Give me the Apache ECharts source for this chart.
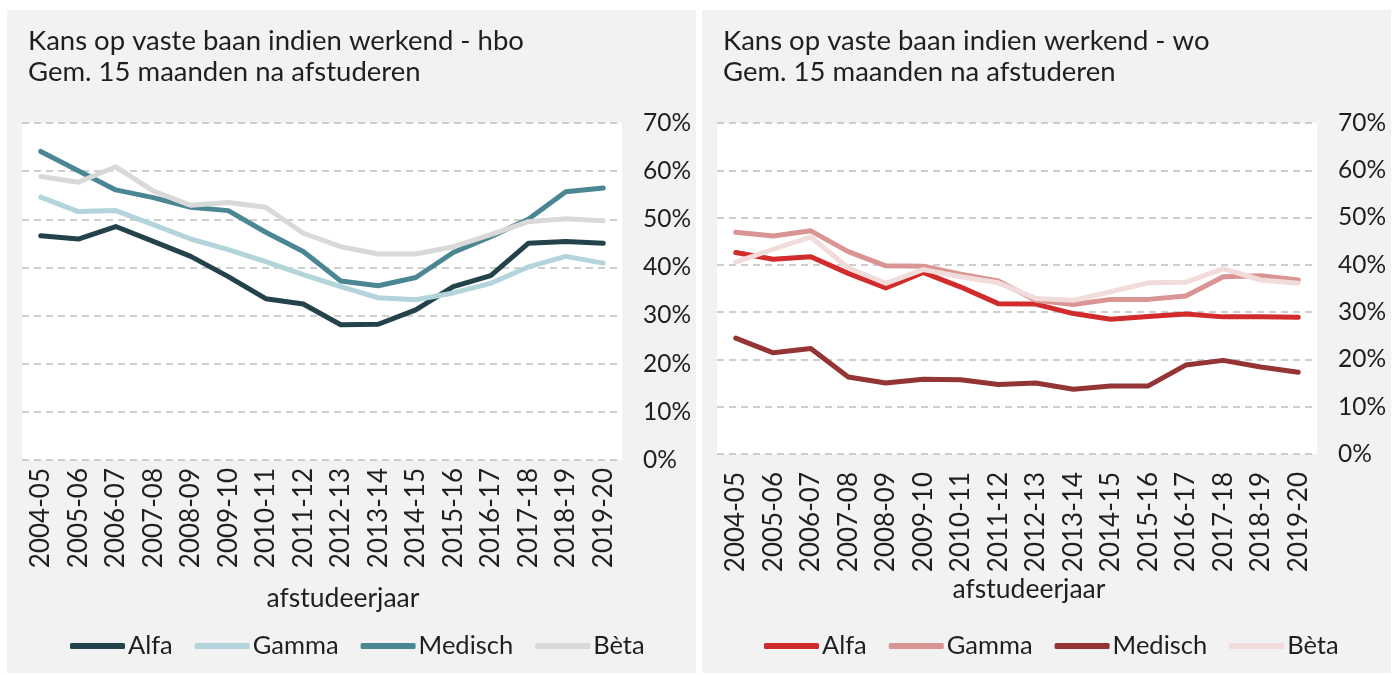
<!DOCTYPE html>
<html>
<head>
<meta charset="utf-8">
<script src="https://cdn.jsdelivr.net/npm/echarts@6/dist/echarts.min.js"></script>
<style>
  html, body { margin: 0; padding: 0; background: #fff; }
  #main { width: 1400px; height: 675px; }
</style>
</head>
<body>
<div id="main"></div>
<script>
// afstudeerjaren
const years = ['2004-05', '2005-06', '2006-07', '2007-08', '2008-09', '2009-10', '2010-11', '2011-12',
  '2012-13', '2013-14', '2014-15', '2015-16', '2016-17', '2017-18', '2018-19', '2019-20']
const seriesNames = ['Alfa', 'Gamma', 'Medisch', 'Bèta']

// hbo (percentages)
const hboAlfa = [46.6, 45.9, 48.5, 45.4, 42.3, 38.1, 33.5, 32.4, 28.1, 28.2, 31.2, 36.0, 38.3, 45.0, 45.4, 45.0]
const hboGamma = [54.6, 51.6, 51.8, 48.9, 45.9, 43.7, 41.2, 38.5, 36.0, 33.7, 33.3, 34.7, 36.7, 40.1, 42.3, 40.9]
const hboMedisch = [64.1, 60.1, 56.1, 54.5, 52.5, 51.8, 47.3, 43.3, 37.2, 36.2, 37.9, 43.1, 46.4, 50.0, 55.7, 56.5]
const hboBeta = [58.9, 57.7, 60.9, 55.9, 52.9, 53.5, 52.5, 47.1, 44.3, 42.8, 42.8, 44.3, 46.8, 49.5, 50.1, 49.7]

// wo (percentages)
const woAlfa = [42.6, 41.2, 41.7, 38.2, 35.1, 38.4, 35.3, 31.8, 31.7, 29.7, 28.5, 29.1, 29.6, 29.0, 29.0, 28.9]
const woGamma = [46.9, 46.1, 47.2, 42.8, 39.8, 39.7, 38.0, 36.6, 32.5, 31.6, 32.7, 32.7, 33.4, 37.5, 37.7, 36.8]
const woMedisch = [24.5, 21.4, 22.3, 16.3, 15.0, 15.8, 15.7, 14.7, 15.0, 13.7, 14.4, 14.4, 18.8, 19.8, 18.4, 17.3]
const woBeta = [40.6, 43.3, 45.9, 39.4, 36.1, 39.0, 37.5, 36.2, 32.9, 32.5, 34.3, 36.2, 36.3, 39.2, 36.8, 36.1]

const yTicks = { min: 0, max: 70, interval: 10 }

const hboColors = ['#234249', '#b3d4da', '#4a8793', '#d9d9d9']
const woColors = ['#d22b2b', '#d99594', '#943434', '#f2dcdb']

const font = 'Lato, "Noto Sans", sans-serif'
const textColor = '#1f1f1f'

const chart = echarts.init(document.getElementById('main'))

const makeX = (gridIndex, margin, nameGap, shift) => ({
  type: 'category',
  gridIndex,
  data: years,
  axisLine: { show: false },
  axisTick: { show: false },
  axisLabel: { rotate: 90, interval: 0, margin, fontSize: 26, color: textColor, fontFamily: font },
  name: 'afstudeerjaar',
  nameLocation: 'middle',
  nameGap,
  nameTextStyle: { fontSize: 26.5, color: textColor, fontFamily: font, padding: [0, 0, 0, shift] }
})

const makeY = (gridIndex) => ({
  type: 'value',
  gridIndex,
  position: 'right',
  min: yTicks.min,
  max: yTicks.max,
  interval: yTicks.interval,
  axisLine: { show: false },
  axisTick: { show: false },
  axisLabel: { formatter: '{value}%', margin: 21, fontSize: 24.5, color: textColor, fontFamily: font, align: 'left' },
  splitLine: { lineStyle: { color: '#bfbfbf', width: 1.5, type: [7, 5] } }
})

const makeSeries = (data, colors, idx) => data.map((d, i) => ({
  name: seriesNames[i],
  type: 'line',
  xAxisIndex: idx,
  yAxisIndex: idx,
  data: d,
  symbol: 'none',
  color: colors[i],
  lineStyle: { width: 5, color: colors[i], cap: 'round', join: 'round' },
  emphasis: { disabled: true }
}))

const makeLegend = (left, colors) => ({
  left,
  top: 628,
  icon: 'roundRect',
  itemWidth: 55,
  itemHeight: 6,
  itemGap: 22,
  textStyle: { fontSize: 25.5, color: textColor, fontFamily: font, padding: [0, 0, 0, -2] },
  data: seriesNames.map((n, i) => ({ name: n, itemStyle: { color: colors[i] } }))
})

const option = {
  animation: false,
  backgroundColor: '#fff',
  graphic: [
    { type: 'rect', shape: { x: 7, y: 10, width: 689, height: 663 }, style: { fill: '#f2f2f2' }, z: -10 },
    { type: 'rect', shape: { x: 702, y: 10, width: 689, height: 663 }, style: { fill: '#f2f2f2' }, z: -10 }
  ],
  title: [
    {
      text: 'Kans op vaste baan indien werkend - hbo\nGem. 15 maanden na afstuderen',
      left: 23, top: 21,
      textStyle: { fontSize: 27.5, fontWeight: 'normal', color: textColor, fontFamily: font, lineHeight: 31 }
    },
    {
      text: 'Kans op vaste baan indien werkend - wo\nGem. 15 maanden na afstuderen',
      left: 718, top: 21,
      textStyle: { fontSize: 27.5, fontWeight: 'normal', color: textColor, fontFamily: font, lineHeight: 31 }
    }
  ],
  legend: [makeLegend(65, hboColors), makeLegend(759, woColors)],
  grid: [
    { left: 22, top: 123, width: 600, height: 337, show: true, backgroundColor: '#fff', borderWidth: 0 },
    { left: 717, top: 123, width: 600, height: 331, show: true, backgroundColor: '#fff', borderWidth: 0 }
  ],
  xAxis: [makeX(0, 8, 125, 42), makeX(1, 18, 119, 24)],
  yAxis: [makeY(0), makeY(1)],
  series: [
    ...makeSeries([hboAlfa, hboGamma, hboMedisch, hboBeta], hboColors, 0),
    ...makeSeries([woAlfa, woGamma, woMedisch, woBeta], woColors, 1)
  ]
}

chart.setOption(option)
</script>
</body>
</html>
